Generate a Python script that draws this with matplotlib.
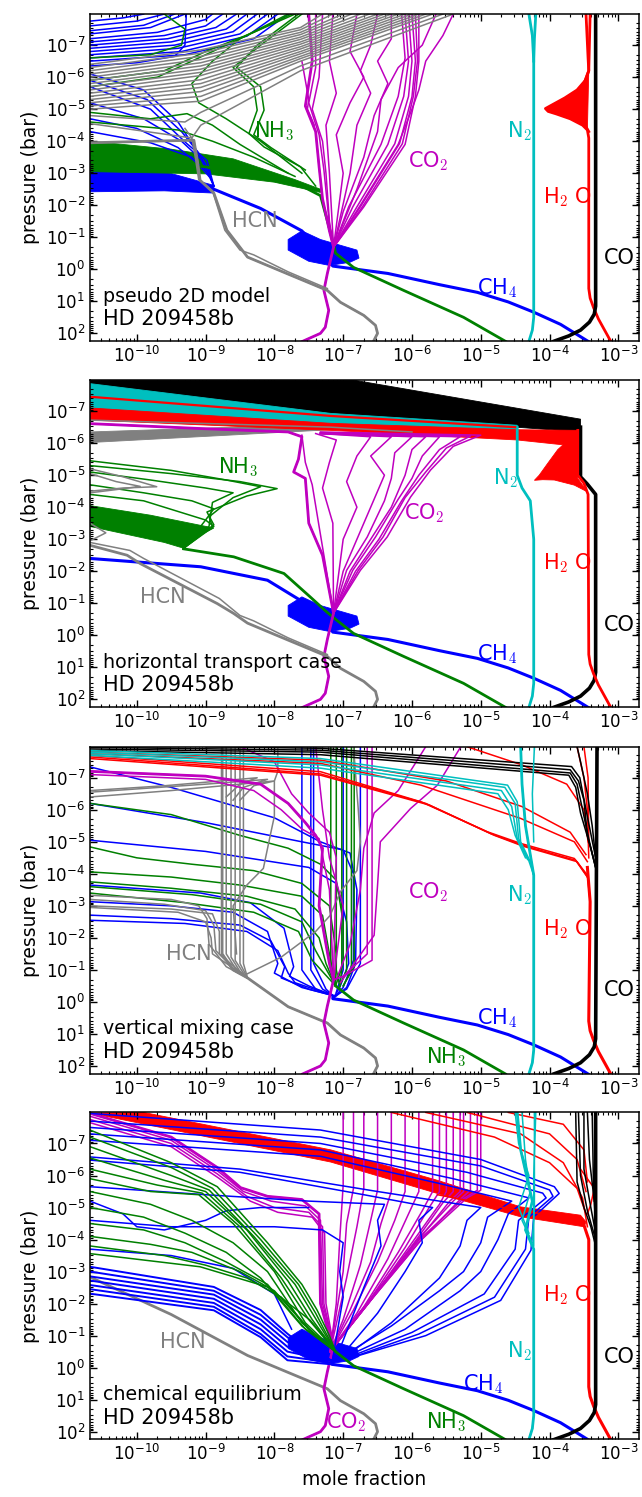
import numpy as np
import matplotlib
matplotlib.use("Agg")
import matplotlib.pyplot as plt
from matplotlib.ticker import FixedLocator, NullFormatter

plt.rcParams["font.family"] = ["DejaVu Sans"]
plt.rcParams["mathtext.fontset"] = "cm"

# every point below is (log10 mole fraction, log10 pressure [bar])

# deep atmosphere, identical in all four cases
CO_DEEP = [(-3.33, 1.15), (-3.35, 1.4), (-3.42, 1.65), (-3.55, 1.9), (-3.72, 2.08), (-3.94, 2.25)]
H2O_DEEP = [(-3.43, 0.6), (-3.41, 0.9), (-3.36, 1.2), (-3.29, 1.55), (-3.2, 1.9), (-3.11, 2.25)]
N2_DEEP = [(-4.23, 1.5), (-4.25, 1.9), (-4.30, 2.25)]
CH4_DEEP = [(-7.15, -0.1), (-6.35, 0.13), (-5.6, 0.48), (-5.05, 0.72), (-4.6, 1.02),
            (-4.23, 1.34), (-3.84, 1.72), (-3.44, 2.25)]
NH3_DEEP = [(-7.11, -0.5), (-6.85, -0.06), (-6.12, 0.66), (-5.25, 1.5), (-4.64, 2.25)]
HCN_DEEP = [(-8.39, -0.38), (-7.8, 0.15), (-7.23, 0.66), (-7.04, 1.03), (-6.70, 1.44),
            (-6.53, 1.75), (-6.50, 2.0), (-6.56, 2.25)]
CO2_DEEP = [(-7.14, -0.69), (-7.23, 0.13), (-7.28, 0.66), (-7.21, 1.28), (-7.26, 1.81),
            (-7.33, 2.0), (-7.59, 2.25)]
CH4_KNOT = [(-7.6, -1.2), (-7.8, -0.93), (-7.8, -0.6), (-7.5, -0.25), (-7.2, -0.12), (-6.9, -0.22),
            (-6.77, -0.35), (-6.8, -0.6), (-7.33, -0.93)]

# ---------------- pseudo 2D model ----------------
P1_CO = [[(-3.33, -7.97)] + CO_DEEP]
P1_H2O = [
    [(-3.47, -7.97), (-3.44, -6.6), (-3.43, -6.2), (-3.48, -5.9), (-3.6, -5.6), (-3.78, -5.35),
     (-3.95, -5.15), (-4.06, -5.02), (-4.02, -4.93), (-3.9, -4.85), (-3.7, -4.7), (-3.52, -4.5),
     (-3.45, -4.35), (-3.43, -4.1)] + H2O_DEEP,
    [(-3.41, -7.97), (-3.43, -6.2), (-3.5, -5.8), (-3.65, -5.45), (-3.8, -5.2), (-3.92, -5.0),
     (-3.82, -4.88), (-3.62, -4.68), (-3.47, -4.45), (-3.43, -4.3)],
]
P1_H2O_FILL = [(-3.43, -6.2), (-3.48, -5.9), (-3.6, -5.6), (-3.78, -5.35), (-3.95, -5.15), (-4.06, -5.02),
               (-4.02, -4.93), (-3.9, -4.85), (-3.7, -4.7), (-3.52, -4.5), (-3.45, -4.35)]
P1_N2 = [[(-4.30, -7.97), (-4.25, -7.3), (-4.23, -6.5)] + N2_DEEP,
         [(-4.20, -7.97), (-4.22, -7.2), (-4.23, -6.5)]]
P1_CH4_FILL = [(-10.68, -3.3), (-9.6, -3.05), (-8.88, -2.62), (-8.88, -2.38), (-9.6, -2.45), (-10.68, -2.42)]
P1_CH4 = [
    [(-10.68, -2.8), (-9.5, -2.62), (-8.88, -2.5), (-8.2, -1.9), (-7.6, -1.2), (-7.35, -0.6)] + CH4_DEEP,
    [(-10.68, -7.75), (-10.2, -7.85), (-9.9, -7.97)],
    [(-10.68, -7.6), (-10.0, -7.75), (-9.6, -7.97)],
    [(-10.68, -7.45), (-9.9, -7.62), (-9.45, -7.97)],
    [(-10.68, -7.35), (-9.8, -7.55), (-9.3, -7.97)],
    [(-10.68, -7.2), (-9.7, -7.4), (-9.0, -7.8), (-8.9, -7.97)],
    [(-10.68, -7.1), (-9.6, -7.3), (-9.0, -7.6), (-8.75, -7.97)],
    [(-10.68, -7.0), (-9.55, -7.2), (-8.85, -7.55), (-8.55, -7.97)],
    [(-10.68, -6.9), (-9.5, -7.1), (-8.7, -7.5), (-8.4, -7.97)],
    [(-10.68, -6.8), (-9.45, -7.0), (-8.6, -7.42), (-8.25, -7.97)],
    [(-10.68, -6.7), (-9.4, -6.9), (-8.5, -7.35), (-8.1, -7.97)],
    [(-10.68, -6.6), (-9.35, -6.8), (-8.4, -7.28), (-7.95, -7.97)],
    [(-10.68, -6.5), (-9.3, -6.7), (-8.3, -7.2), (-7.8, -7.97)],
    [(-9.28, -7.97), (-9.3, -7.0), (-9.45, -6.65), (-10.0, -6.45), (-10.68, -6.35)],
    [(-10.68, -6.1), (-9.9, -5.6), (-9.4, -4.6), (-9.1, -3.6), (-8.88, -2.6)],
    [(-10.68, -5.9), (-9.85, -5.3), (-9.35, -4.3), (-9.05, -3.5), (-8.88, -2.6)],
    [(-10.68, -5.7), (-9.8, -5.0), (-9.27, -3.92), (-8.98, -3.4), (-8.88, -2.6)],
    [(-10.68, -5.2), (-9.9, -4.7), (-9.35, -4.0), (-9.0, -3.3), (-8.88, -2.6)],
    [(-10.68, -4.7), (-10.0, -4.4), (-9.4, -3.8), (-9.0, -3.1)],
    [(-10.68, -4.3), (-9.8, -3.95), (-9.2, -3.5), (-8.95, -2.9)],
]
P1_NH3_FILL = [(-10.68, -4.0), (-9.5, -3.75), (-8.6, -3.45), (-7.7, -2.8), (-7.33, -2.5), (-7.33, -2.4),
               (-8.0, -2.72), (-9.0, -2.98), (-10.68, -3.05)]
P1_NH3 = [
    [(-10.68, -3.5), (-9.0, -3.2), (-7.6, -2.6), (-7.33, -2.3), (-7.18, -1.12)] + NH3_DEEP,
    [(-9.6, -7.97), (-9.3, -7.5), (-9.35, -7.0), (-9.8, -6.7), (-10.68, -6.6)],
    [(-7.7, -7.97), (-8.3, -7.4), (-9.0, -6.8), (-9.6, -6.2), (-10.68, -5.9)],
    [(-7.75, -7.97), (-8.4, -7.3), (-9.1, -6.6), (-9.7, -6.0), (-10.68, -5.7)],
    [(-7.8, -7.97), (-8.5, -7.2), (-8.9, -6.5), (-9.2, -5.8), (-9.1, -5.2), (-8.7, -4.7), (-8.2, -4.0),
     (-7.6, -3.0)],
    [(-7.6, -7.97), (-8.2, -7.0), (-8.6, -6.3), (-8.3, -5.7), (-8.25, -4.97), (-8.37, -4.24), (-8.15, -3.82),
     (-7.62, -3.2), (-7.4, -2.6)],
    [(-7.65, -7.97), (-8.25, -7.0), (-8.55, -6.3), (-8.2, -5.7), (-8.15, -4.97), (-8.3, -4.2), (-8.05, -3.8),
     (-7.55, -3.1)],
    [(-10.68, -4.9), (-9.8, -4.7), (-9.27, -4.86), (-8.9, -4.5), (-8.5, -3.9), (-7.8, -3.0)],
    [(-10.68, -4.6), (-9.9, -4.45), (-9.4, -4.35), (-8.9, -4.0), (-8.3, -3.5), (-7.7, -2.9)],
]
P1_HCN = [
    [(-10.68, -3.95), (-9.8, -4.0), (-9.17, -4.03), (-9.12, -3.4), (-9.08, -2.78), (-8.88, -2.38),
     (-8.69, -1.22)] + HCN_DEEP,
    [(-9.3, -4.4), (-9.2, -4.1), (-9.15, -3.5), (-9.1, -2.8), (-8.9, -2.45), (-8.72, -1.22), (-8.5, -0.6),
     (-8.3, -0.45), (-7.8, 0.08), (-7.23, 0.6)],
    [(-10.68, -6.40), (-9.07, -6.85), (-7.62, -7.55), (-7.30, -7.97)],
    [(-10.68, -6.30), (-9.07, -6.75), (-7.62, -7.48), (-7.15, -7.97)],
    [(-10.68, -6.20), (-9.07, -6.65), (-7.62, -7.40), (-7.00, -7.97)],
    [(-10.68, -6.10), (-9.07, -6.55), (-7.62, -7.33), (-6.88, -7.97)],
    [(-10.68, -6.00), (-9.07, -6.45), (-7.62, -7.25), (-6.75, -7.97)],
    [(-10.68, -5.90), (-9.07, -6.35), (-7.62, -7.18), (-6.62, -7.97)],
    [(-10.68, -5.80), (-9.07, -6.25), (-7.62, -7.10), (-6.50, -7.97)],
    [(-10.68, -5.70), (-9.07, -6.15), (-7.62, -7.03), (-6.40, -7.97)],
    [(-10.68, -5.60), (-9.07, -6.05), (-7.62, -6.95), (-6.30, -7.97)],
    [(-10.68, -5.50), (-9.07, -5.92), (-7.62, -6.88), (-6.20, -7.97)],
    [(-10.68, -5.40), (-9.07, -5.80), (-7.62, -6.80), (-6.10, -7.97)],
    [(-10.68, -5.30), (-9.07, -5.68), (-7.62, -6.73), (-6.00, -7.97)],
    [(-10.68, -5.20), (-9.07, -5.55), (-7.62, -6.65), (-5.90, -7.97)],
    [(-10.68, -5.10), (-9.07, -5.40), (-7.62, -6.58), (-5.80, -7.97)],
    [(-10.68, -5.00), (-9.07, -5.25), (-7.62, -6.50), (-5.70, -7.97)],
    [(-10.68, -4.80), (-9.3, -4.6), (-9.07, -4.9), (-7.62, -6.35), (-5.55, -7.97)],
    [(-10.68, -4.55), (-9.2, -4.1), (-9.07, -4.5), (-7.62, -6.2), (-5.4, -7.97)],
]
P1_CO2 = [
    [(-7.5, -7.97), (-7.45, -6.5), (-7.55, -5.1), (-7.4, -4.3), (-7.35, -3.2), (-7.3, -2.2), (-7.2, -1.2)]
    + CO2_DEEP,
    [(-7.3, -7.97), (-7.35, -6.0), (-7.45, -5.0), (-7.3, -4.0), (-7.25, -3.0), (-7.2, -1.5), (-7.14, -0.69)],
    [(-7.4, -7.97), (-7.4, -6.3), (-7.5, -5.2), (-7.35, -4.2), (-7.28, -3.1), (-7.2, -1.4), (-7.14, -0.69)],
    [(-7.15, -7.97), (-7.2, -6.5), (-7.1, -5.5), (-7.25, -4.5), (-7.2, -3.0), (-7.14, -0.69)],
    [(-6.8, -7.97), (-6.9, -6.8), (-6.7, -6.0), (-6.9, -5.2), (-7.1, -4.2), (-7.0, -3.0), (-7.14, -0.69)],
    [(-6.5, -7.97), (-6.6, -7.0), (-6.75, -6.2), (-6.6, -5.5), (-6.8, -4.5), (-6.9, -3.0), (-7.14, -0.69)],
    [(-6.3, -7.97), (-6.3, -7.2), (-6.5, -6.5), (-6.35, -5.8), (-6.55, -4.8), (-6.7, -3.5), (-7.0, -1.8),
     (-7.14, -0.69)],
    [(-5.9, -7.97), (-5.9, -6.5), (-5.95, -5.4), (-6.1, -3.9), (-6.7, -1.95), (-7.14, -0.69)],
    [(-5.95, -7.97), (-5.92, -6.5), (-5.98, -5.4), (-6.14, -3.92), (-6.72, -1.95), (-7.14, -0.69)],
    [(-6.0, -7.97), (-5.95, -6.5), (-6.0, -5.39), (-6.18, -3.93), (-6.75, -1.95), (-7.14, -0.69)],
    [(-6.05, -7.97), (-6.0, -6.5), (-6.05, -5.4), (-6.25, -3.92), (-6.8, -1.95), (-7.14, -0.69)],
    [(-6.1, -7.97), (-6.05, -6.5), (-6.12, -5.4), (-6.35, -3.9), (-6.86, -1.95), (-7.14, -0.69)],
    [(-6.15, -7.97), (-6.1, -6.6), (-6.2, -5.4), (-6.45, -3.9), (-6.92, -1.95), (-7.14, -0.69)],
    [(-5.4, -7.97), (-5.55, -7.3), (-5.8, -6.5), (-5.9, -5.6), (-6.0, -5.0), (-6.2, -3.9), (-6.75, -2.0),
     (-7.14, -0.69)],
    [(-5.65, -7.97), (-5.85, -7.0), (-6.2, -6.3), (-6.45, -5.3), (-6.5, -4.3), (-6.8, -2.5), (-7.14, -0.69)],
    [(-7.6, -6.5), (-7.5, -5.3), (-7.52, -5.0), (-7.42, -4.5)],
]

# ---------------- horizontal transport case ----------------
P2_CO_FILL = [(-10.68, -7.97), (-6.85, -7.97), (-3.55, -6.75), (-3.55, -6.35), (-7.18, -6.93), (-10.68, -7.8)]
P2_CO = [[(-3.55, -6.5), (-3.55, -4.95), (-3.45, -4.72), (-3.33, -4.4)] + CO_DEEP]
P2_N2_FILL = [(-10.68, -7.86), (-7.18, -6.93), (-4.47, -6.56), (-4.47, -6.3), (-7.18, -6.6), (-10.68, -6.98)]
P2_N2 = [[(-4.47, -6.5), (-4.47, -5.0), (-4.40, -4.6), (-4.28, -4.2), (-4.23, -3.0)] + N2_DEEP]
P2_H2O_FILL = [(-10.68, -7.1), (-7.18, -6.62), (-4.47, -6.42), (-3.59, -6.4), (-3.59, -5.9), (-4.47, -6.1),
               (-7.18, -6.4), (-10.68, -6.72)]
P2_H2O_BUMP = [(-3.59, -6.3), (-3.75, -6.05), (-3.88, -5.8), (-4.03, -5.36), (-4.15, -5.0), (-4.22, -4.84),
               (-4.1, -4.86), (-3.93, -4.85), (-3.64, -4.69), (-3.45, -4.48), (-3.59, -4.9)]
P2_H2O = [
    [(-3.59, -6.4), (-3.59, -5.0), (-3.5, -4.75), (-3.44, -4.4)] + H2O_DEEP,
    [(-10.68, -7.45), (-7.18, -6.85), (-4.5, -6.5)],
]
P2_HCN_FILL = [(-10.68, -6.35), (-7.18, -6.6), (-6.85, -6.52), (-7.18, -6.42), (-10.68, -6.02)]
P2_HCN = [
    [(-10.68, -2.81), (-10.14, -2.5), (-9.95, -2.24), (-8.83, -0.99), (-8.59, -0.68)] + HCN_DEEP,
    [(-10.68, -6.72), (-7.18, -6.5), (-6.0, -6.35)],
    [(-10.68, -5.2), (-10.2, -4.95), (-9.71, -4.64), (-10.2, -4.6), (-10.68, -4.5)],
    [(-10.68, -5.05), (-10.3, -4.8), (-9.95, -4.65), (-10.3, -4.55), (-10.68, -4.45)],
    [(-10.68, -3.5), (-10.45, -3.2), (-10.68, -2.95)],
    [(-10.68, -2.9), (-10.1, -2.65), (-9.9, -2.4), (-8.8, -1.15), (-8.5, -0.62), (-8.3, -0.45), (-7.8, 0.08),
     (-7.23, 0.6)],
]
P2_NH3_FILL = [(-10.68, -4.05), (-9.8, -3.75), (-8.88, -3.35), (-9.1, -3.1), (-9.32, -2.72), (-9.6, -2.9),
               (-10.68, -3.4)]
P2_NH3 = [
    [(-9.32, -2.7), (-8.59, -2.45), (-7.86, -1.93), (-7.48, -1.2), (-7.25, -0.75)] + NH3_DEEP,
    [(-10.68, -5.3), (-9.5, -5.05), (-8.5, -4.8), (-7.96, -4.58), (-8.4, -4.35), (-8.98, -3.85),
     (-8.88, -3.45), (-9.32, -2.72)],
    [(-10.68, -5.45), (-9.5, -5.15), (-8.7, -4.85), (-8.2, -4.64), (-8.6, -4.3), (-8.95, -3.7),
     (-8.9, -3.4), (-9.32, -2.72)],
    [(-10.68, -5.1), (-9.8, -4.85), (-9.0, -4.6), (-8.6, -4.45), (-8.9, -4.15), (-8.95, -3.4), (-9.32, -2.72)],
    [(-10.68, -4.7), (-9.9, -4.45), (-9.2, -4.2), (-8.88, -3.95), (-9.0, -3.6), (-9.32, -2.72)],
    [(-10.68, -4.4), (-9.9, -4.2), (-9.0, -3.6), (-8.88, -3.4), (-9.32, -2.72)],
]
P2_CH4 = [[(-10.68, -2.4), (-9.07, -2.14), (-8.1, -1.72), (-7.62, -1.09), (-7.35, -0.7)] + CH4_DEEP]
P2_CO2 = [
    [(-10.68, -6.61), (-9.0, -6.45), (-7.8, -6.35), (-7.6, -6.2), (-7.65, -5.5), (-7.72, -5.1),
     (-7.55, -4.9), (-7.5, -3.5), (-7.3, -2.5)] + CO2_DEEP,
    [(-7.33, -6.35), (-5.0, -6.25), (-5.4, -5.9), (-5.73, -5.16), (-6.02, -4.32), (-6.36, -3.07),
     (-6.75, -2.03), (-7.14, -0.69)],
    [(-7.33, -6.33), (-5.15, -6.22), (-5.5, -5.85), (-5.8, -5.1), (-6.1, -4.3), (-6.42, -3.07),
     (-6.78, -2.03), (-7.14, -0.69)],
    [(-7.33, -6.3), (-5.3, -6.2), (-5.6, -5.8), (-5.9, -5.0), (-6.15, -4.2), (-6.48, -3.0), (-6.82, -2.0),
     (-7.14, -0.69)],
    [(-7.33, -6.32), (-5.6, -6.2), (-5.85, -5.6), (-6.0, -4.9), (-6.2, -4.25), (-6.53, -3.07),
     (-6.86, -2.03), (-7.14, -0.69)],
    [(-7.33, -6.3), (-5.8, -6.2), (-6.0, -5.8), (-6.1, -5.0), (-6.3, -4.0), (-6.6, -3.0), (-6.9, -2.0),
     (-7.14, -0.69)],
    [(-7.33, -6.31), (-6.0, -6.2), (-6.25, -5.7), (-6.3, -4.9), (-6.4, -4.2), (-6.65, -3.07), (-6.95, -2.03),
     (-7.14, -0.69)],
    [(-7.33, -6.3), (-6.3, -6.2), (-6.6, -5.6), (-6.4, -5.0), (-6.6, -4.0), (-6.8, -3.0), (-7.0, -2.0),
     (-7.14, -0.69)],
    [(-7.33, -6.3), (-6.6, -6.2), (-6.8, -5.6), (-6.95, -4.8), (-6.8, -4.0), (-7.0, -3.0), (-7.14, -0.69)],
    [(-7.4, -6.3), (-7.1, -6.1), (-7.2, -5.4), (-7.3, -4.6), (-7.15, -3.5), (-7.14, -0.69)],
    [(-7.6, -6.25), (-7.55, -5.4), (-7.45, -4.7), (-7.35, -3.4), (-7.14, -0.69)],
]

# ---------------- vertical mixing case ----------------
P3_CO = [
    [(-3.31, -7.97), (-3.33, 1.15)] + CO_DEEP,
    [(-10.68, -7.95), (-7.33, -7.86), (-3.7, -7.25), (-3.58, -6.9), (-3.5, -6.3), (-3.45, -5.2), (-3.33, -4.2)],
    [(-10.68, -7.9), (-7.33, -7.8), (-3.7, -7.15), (-3.6, -6.8), (-3.52, -6.0), (-3.42, -5.0), (-3.33, -4.2)],
    [(-10.68, -7.85), (-7.33, -7.72), (-3.72, -7.08), (-3.62, -6.7), (-3.55, -5.9), (-3.4, -4.8), (-3.33, -4.2)],
    [(-9.0, -7.97), (-7.33, -7.92), (-3.68, -7.35), (-3.56, -7.0), (-3.47, -6.0), (-3.33, -4.5)],
    [(-3.6, -7.97), (-3.55, -7.5), (-3.45, -6.5), (-3.38, -5.5), (-3.33, -4.5)],
]
P3_N2 = [
    [(-4.42, -7.97), (-4.4, -6.8), (-4.35, -5.5), (-4.28, -4.6), (-4.23, -3.96)] + N2_DEEP,
    [(-4.22, -7.97), (-4.25, -6.5), (-4.23, -5.0)],
    [(-10.68, -7.85), (-7.33, -7.6), (-4.61, -6.77), (-4.47, -6.25), (-4.42, -5.0), (-4.28, -4.38), (-4.23, -3.96)],
    [(-10.68, -7.8), (-7.33, -7.5), (-4.65, -6.7), (-4.5, -6.2), (-4.45, -5.1), (-4.3, -4.4), (-4.23, -3.96)],
    [(-10.68, -7.75), (-7.33, -7.4), (-4.7, -6.6), (-4.55, -6.1), (-4.47, -5.1), (-4.32, -4.45)],
    [(-10.68, -7.7), (-7.33, -7.3), (-4.75, -6.5), (-4.6, -6.0), (-4.5, -5.2), (-4.35, -4.5)],
]
P3_H2O = [
    [(-3.45, -4.2), (-3.41, -3.13)] + H2O_DEEP,
    [(-10.68, -7.7), (-7.33, -7.19), (-5.87, -6.25), (-4.9, -5.31), (-4.42, -4.95), (-3.64, -4.48),
     (-3.45, -3.96), (-3.41, -3.13)],
    [(-10.68, -7.65), (-7.33, -7.12), (-5.8, -6.2), (-4.85, -5.25), (-4.4, -4.9), (-3.62, -4.42), (-3.45, -3.9)],
    [(-10.68, -7.6), (-7.33, -7.08), (-5.75, -6.15), (-4.8, -5.2), (-4.38, -4.86), (-3.6, -4.38), (-3.45, -3.9)],
    [(-10.68, -7.75), (-7.33, -7.45), (-5.87, -6.77), (-4.42, -5.73), (-3.64, -5.0), (-3.45, -4.38)],
    [(-10.68, -7.8), (-7.33, -7.55), (-5.5, -6.9), (-4.4, -6.1), (-3.7, -5.3), (-3.47, -4.6)],
    [(-5.2, -7.97), (-4.4, -7.4), (-3.75, -6.8), (-3.5, -6.0), (-3.44, -5.0)],
    [(-3.6, -7.97), (-3.5, -7.0), (-3.45, -6.0), (-3.43, -4.5)],
    [(-3.5, -7.97), (-3.44, -7.0), (-3.43, -5.0)],
]
P3_HCN = [
    [(-8.76, -7.97), (-8.76, -1.5), (-8.6, -1.0), (-8.39, -0.75)] + HCN_DEEP[1:],
    [(-8.7, -7.97), (-8.7, -1.5), (-8.55, -1.0), (-8.39, -0.75)],
    [(-8.63, -7.97), (-8.63, -1.4), (-8.5, -0.95), (-8.39, -0.75)],
    [(-8.57, -7.97), (-8.57, -1.3), (-8.45, -0.9), (-8.39, -0.75)],
    [(-8.5, -7.97), (-8.5, -1.2), (-8.39, -0.75)],
    [(-8.45, -7.97), (-8.45, -1.2), (-8.39, -0.75)],
    [(-10.68, -3.33), (-9.5, -3.2), (-9.1, -3.0), (-8.98, -2.6), (-8.95, -1.8), (-8.7, -1.1), (-8.39, -0.75)],
    [(-10.68, -3.2), (-9.6, -3.05), (-9.0, -2.85), (-8.88, -2.4), (-8.85, -1.6), (-8.6, -1.05), (-8.39, -0.75)],
    [(-10.68, -3.0), (-9.5, -2.9), (-8.9, -2.75), (-8.8, -2.2), (-8.8, -1.5), (-8.39, -0.75)],
    [(-10.68, -2.95), (-9.4, -2.8), (-9.0, -2.5), (-8.92, -2.0), (-8.9, -1.5), (-8.39, -0.75)],
    [(-8.6, -6.3), (-8.45, -6.7), (-8.1, -6.95), (-9.0, -6.8), (-10.68, -6.55)],
    [(-8.5, -6.3), (-8.3, -6.75), (-8.0, -6.9), (-9.5, -6.6), (-10.68, -6.4)],
    [(-8.7, -6.4), (-8.5, -6.8), (-8.25, -7.0), (-9.6, -6.75), (-10.68, -6.6)],
    [(-7.95, -7.97), (-7.95, -7.2), (-8.0, -6.9), (-8.0, -5.8), (-8.06, -5.2), (-8.16, -4.17), (-8.4, -3.65),
     (-8.6, -3.0), (-8.55, -1.5)],
    [(-8.42, -0.85), (-7.9, -1.4), (-7.4, -2.2), (-7.19, -2.7), (-7.04, -3.44), (-6.8, -4.1), (-6.75, -5.0),
     (-6.78, -6.0), (-6.85, -7.97)],
]
P3_CH4 = [
    [(-7.15, -0.15)] + CH4_DEEP,
    [(-10.68, -7.34), (-9.5, -6.7), (-8.0, -5.75), (-7.33, -5.0), (-6.9, -4.65), (-6.8, -3.5), (-6.82, -1.2),
     (-6.95, -0.45), (-7.15, -0.1)],
    [(-10.68, -6.2), (-9.0, -5.6), (-7.6, -5.0), (-7.0, -4.75), (-6.85, -4.0), (-6.85, -1.3), (-7.0, -0.45),
     (-7.15, -0.1)],
    [(-10.68, -5.05), (-9.0, -4.7), (-7.5, -4.2), (-7.1, -3.7), (-6.95, -2.5), (-6.92, -1.2), (-7.05, -0.45),
     (-7.15, -0.1)],
    [(-10.68, -3.65), (-9.07, -3.4), (-8.35, -3.1), (-7.86, -2.3), (-7.72, -1.1), (-7.78, -0.8), (-7.5, -0.5),
     (-7.15, -0.2)],
    [(-10.68, -3.13), (-9.5, -3.0), (-8.6, -2.8), (-8.1, -2.2), (-7.95, -1.2), (-8.0, -0.9), (-7.6, -0.45),
     (-7.15, -0.2)],
    [(-10.68, -2.71), (-9.5, -2.6), (-8.5, -2.4), (-8.05, -1.9), (-7.85, -1.1), (-7.9, -0.75), (-7.5, -0.4),
     (-7.15, -0.2)],
    [(-10.68, -2.55), (-9.3, -2.45), (-8.4, -2.2), (-7.95, -1.6), (-7.8, -0.9), (-7.7, -0.6), (-7.15, -0.2)],
    [(-7.6, -7.97), (-7.6, -1.0), (-7.4, -0.4), (-7.15, -0.2)],
    [(-7.47, -7.97), (-7.47, -1.0), (-7.3, -0.4), (-7.15, -0.2)],
    [(-7.43, -7.97), (-7.43, -1.2), (-7.25, -0.4), (-7.15, -0.2)],
    [(-7.0, -7.97), (-7.0, -1.0), (-7.1, -0.3)],
    [(-6.75, -7.97), (-6.75, -1.2), (-6.95, -0.4), (-7.15, -0.15)],
]
P3_NH3 = [
    [(-7.11, -0.5)] + NH3_DEEP,
    [(-10.68, -6.2), (-9.5, -5.85), (-8.5, -5.2), (-7.8, -4.8), (-7.33, -4.3), (-7.1, -3.8), (-7.0, -2.5),
     (-7.0, -1.2), (-7.11, -0.5)],
    [(-10.68, -4.84), (-10.0, -4.5), (-9.2, -4.3), (-8.3, -4.1), (-7.6, -3.7), (-7.2, -3.0), (-7.1, -1.5),
     (-7.11, -0.5)],
    [(-10.68, -4.06), (-9.5, -3.9), (-8.5, -3.65), (-7.6, -3.3), (-7.3, -2.7), (-7.2, -1.5), (-7.11, -0.5)],
    [(-10.68, -3.75), (-9.5, -3.55), (-8.4, -3.3), (-7.7, -2.9), (-7.35, -2.0), (-7.25, -1.2), (-7.11, -0.5)],
    [(-10.68, -3.6), (-9.2, -3.35), (-8.2, -3.05), (-7.6, -2.5), (-7.4, -1.6), (-7.11, -0.5)],
    [(-10.68, -3.4), (-9.3, -3.1), (-8.3, -2.8), (-7.65, -2.2), (-7.45, -1.3), (-7.11, -0.5)],
    [(-7.18, -7.97), (-7.18, -1.0), (-7.11, -0.5)],
    [(-7.1, -7.97), (-7.1, -1.0), (-7.05, -0.5)],
    [(-7.02, -7.97), (-7.02, -1.0), (-7.05, -0.5)],
    [(-6.95, -7.97), (-6.95, -1.0), (-7.05, -0.5)],
    [(-6.88, -7.97), (-6.88, -1.0), (-7.0, -0.5)],
    [(-6.84, -7.97), (-6.84, -1.1), (-7.0, -0.5)],
]
P3_CO2 = [
    [(-10.68, -7.2), (-9.0, -7.05), (-8.2, -6.8), (-7.8, -6.2), (-7.55, -5.6), (-7.4, -5.2), (-7.3, -4.8),
     (-7.35, -3.0), (-7.2, -1.2)] + CO2_DEEP,
    [(-10.68, -7.1), (-9.0, -6.95), (-8.3, -6.6), (-7.9, -6.0), (-7.6, -5.4), (-7.35, -5.1), (-7.2, -3.5),
     (-7.14, -0.69)],
    [(-8.5, -7.97), (-8.0, -7.5), (-7.75, -6.5), (-7.5, -5.9), (-7.2, -5.3), (-7.1, -4.5), (-7.14, -0.69)],
    [(-7.4, -7.97), (-7.3, -6.0), (-7.2, -4.5), (-7.0, -3.0), (-7.14, -0.69)],
    [(-6.65, -7.97), (-6.65, -1.5), (-7.0, -0.8), (-7.14, -0.69)],
    [(-6.58, -7.97), (-6.58, -1.3), (-7.0, -0.8), (-7.14, -0.69)],
    [(-5.29, -7.97), (-5.63, -6.77), (-6.02, -6.04), (-6.46, -5.0), (-6.5, -3.65), (-6.55, -2.08),
     (-7.04, -0.6)],
    [(-5.8, -7.97), (-6.2, -6.6), (-6.55, -5.9), (-6.7, -4.8), (-6.75, -3.5), (-6.9, -1.8), (-7.1, -0.7)],
]

# ---------------- chemical equilibrium ----------------
P4_CO = [
    [(-3.33, -7.97), (-3.33, 1.15)] + CO_DEEP,
    [(-3.62, -7.97), (-3.6, -5.8), (-3.5, -5.0), (-3.4, -4.4), (-3.33, -3.8)],
    [(-3.58, -7.97), (-3.55, -6.0), (-3.45, -4.9), (-3.33, -4.0)],
    [(-3.5, -7.97), (-3.5, -6.2), (-3.4, -5.0), (-3.33, -4.2)],
    [(-3.45, -7.97), (-3.42, -6.5), (-3.35, -5.2)],
    [(-3.38, -7.97), (-3.36, -5.5), (-3.33, -4.5)],
]
P4_N2 = [
    [(-4.47, -7.97), (-4.42, -6.8), (-4.25, -5.2), (-4.35, -4.3), (-4.23, -3.7)] + N2_DEEP,
    [(-4.4, -7.97), (-4.35, -6.5), (-4.28, -5.5), (-4.4, -4.6), (-4.25, -3.9)],
    [(-4.22, -7.97), (-4.22, -5.0), (-4.25, -4.0)],
    [(-4.5, -7.97), (-4.45, -7.0), (-4.3, -6.0), (-4.45, -5.0), (-4.3, -4.2)],
    [(-4.2, -7.97), (-4.23, -6.0), (-4.23, -3.8)],
]
P4_H2O_FILL = [(-9.9, -7.97), (-7.18, -6.8), (-5.63, -5.85), (-4.42, -5.02), (-3.55, -4.76), (-3.47, -4.55),
               (-3.5, -4.4), (-4.42, -4.71), (-5.63, -5.44), (-7.18, -6.42), (-10.68, -7.95)]
P4_H2O = [
    [(-3.5, -4.45), (-3.43, -4.0)] + H2O_DEEP,
    [(-5.8, -7.97), (-4.42, -7.3), (-3.8, -6.4), (-3.52, -5.3), (-3.45, -4.4)],
    [(-5.2, -7.97), (-4.0, -7.3), (-3.6, -6.5), (-3.47, -5.5)],
    [(-4.6, -7.97), (-3.8, -7.6), (-3.5, -6.8), (-3.45, -5.8)],
    [(-6.3, -7.97), (-4.8, -7.2), (-4.0, -6.4), (-3.6, -5.6), (-3.47, -4.8)],
    [(-3.55, -6.2), (-3.35, -5.6), (-3.4, -5.1), (-3.45, -4.8)],
    [(-5.63, -5.4), (-4.42, -4.9), (-3.6, -4.65)],
]
P4_CH4 = [
    [(-7.15, -0.1)] + CH4_DEEP,
    [(-10.68, -7.94), (-7.33, -7.42), (-5.0, -6.5), (-3.93, -5.65), (-3.86, -5.44), (-4.23, -4.71),
     (-4.27, -3.67), (-4.71, -2.1), (-5.8, -1.0), (-6.85, -0.33), (-7.1, -0.2)],
    [(-10.68, -7.7), (-7.33, -7.2), (-5.0, -6.3), (-4.0, -5.55), (-3.95, -5.35), (-4.3, -4.7), (-4.35, -3.7),
     (-4.8, -2.2), (-5.9, -1.05), (-6.9, -0.3), (-7.1, -0.2)],
    [(-10.68, -7.5), (-7.33, -7.0), (-5.2, -6.1), (-4.1, -5.45), (-4.05, -5.3), (-4.45, -4.6), (-4.5, -3.7),
     (-4.95, -2.3), (-6.0, -1.1), (-6.95, -0.3), (-7.1, -0.2)],
    [(-10.68, -7.3), (-7.33, -6.8), (-5.4, -5.9), (-4.3, -5.3), (-4.6, -4.8), (-4.75, -4.0), (-5.0, -3.0),
     (-5.3, -2.4), (-6.1, -1.2), (-7.0, -0.3), (-7.1, -0.2)],
    [(-10.68, -7.1), (-7.33, -6.6), (-5.6, -5.75), (-4.55, -5.2), (-4.9, -4.7), (-5.0, -3.9), (-5.25, -3.0),
     (-5.6, -2.4), (-6.3, -1.3), (-7.05, -0.3)],
    [(-10.68, -6.58), (-8.5, -6.2), (-6.5, -5.5), (-5.0, -5.0), (-5.2, -4.6), (-5.3, -3.8), (-5.6, -2.8),
     (-6.3, -1.4), (-7.0, -0.3)],
    [(-10.68, -6.48), (-8.5, -6.1), (-6.7, -5.4), (-5.7, -5.0), (-5.9, -4.6), (-5.85, -3.9), (-6.1, -3.0),
     (-6.5, -1.7), (-7.05, -0.3)],
    [(-10.68, -5.65), (-9.0, -5.4), (-7.5, -5.2), (-6.4, -5.1), (-6.5, -4.6), (-6.45, -3.8), (-6.7, -2.5),
     (-7.1, -0.3)],
    [(-10.68, -4.6), (-9.5, -4.4), (-8.0, -4.4), (-7.3, -4.3), (-7.0, -3.9), (-7.05, -3.0), (-7.0, -2.2),
     (-7.15, -0.3)],
    [(-10.68, -5.2), (-10.2, -4.8), (-10.0, -4.4), (-9.6, -4.3), (-9.0, -4.6), (-8.7, -4.9), (-8.2, -5.0),
     (-7.5, -5.0)],
    [(-10.68, -3.7), (-9.5, -3.5), (-8.6, -3.1), (-8.0, -2.3), (-7.75, -1.2)],
]
P4_CH4_BAND = [
    [(-10.68, -3.15), (-8.88, -2.52), (-8.2, -1.8), (-7.81, -1.06), (-7.6, -0.7), (-7.15, -0.2)],
    [(-10.68, -3.0), (-8.88, -2.4), (-8.2, -1.65), (-7.81, -0.95), (-7.15, -0.2)],
    [(-10.68, -2.85), (-8.88, -2.28), (-8.2, -1.5), (-7.81, -0.8), (-7.15, -0.2)],
    [(-10.68, -2.72), (-8.88, -2.15), (-8.2, -1.35), (-7.81, -0.65), (-7.15, -0.2)],
    [(-10.68, -2.58), (-8.88, -2.02), (-8.2, -1.2), (-7.81, -0.5), (-7.15, -0.2)],
    [(-10.68, -2.45), (-8.88, -1.9), (-8.2, -1.05), (-7.81, -0.35), (-7.15, -0.15)],
    [(-10.68, -2.31), (-8.88, -1.79), (-8.2, -0.95), (-7.81, -0.23), (-7.15, -0.1)],
]
P4_NH3 = [
    [(-7.11, -0.5)] + NH3_DEEP,
    [(-10.68, -7.42), (-9.5, -6.4), (-8.83, -5.65), (-8.1, -3.9), (-7.6, -2.6), (-7.38, -1.8), (-7.2, -1.0),
     (-7.11, -0.5)],
    [(-10.68, -7.2), (-9.5, -6.25), (-8.9, -5.6), (-8.2, -4.0), (-7.65, -2.6), (-7.4, -1.7), (-7.11, -0.5)],
    [(-10.68, -6.9), (-9.5, -6.0), (-8.95, -5.55), (-8.3, -4.1), (-7.7, -2.6), (-7.42, -1.6), (-7.11, -0.5)],
    [(-10.68, -6.55), (-9.6, -5.85), (-9.0, -5.5), (-8.4, -4.3), (-7.8, -2.7), (-7.45, -1.5), (-7.11, -0.5)],
    [(-10.68, -6.2), (-9.7, -5.7), (-9.05, -5.45), (-8.5, -4.4), (-7.9, -2.8), (-7.5, -1.5), (-7.11, -0.5)],
    [(-10.68, -5.9), (-9.8, -5.5), (-9.1, -5.4), (-8.6, -4.5), (-8.0, -3.0), (-7.55, -1.4), (-7.11, -0.5)],
    [(-10.68, -5.5), (-9.8, -5.1), (-9.2, -4.6), (-8.6, -3.9), (-8.1, -3.0), (-7.6, -1.4), (-7.11, -0.5)],
    [(-10.68, -5.0), (-9.9, -4.7), (-9.3, -4.2), (-8.7, -3.6), (-8.2, -2.8), (-7.6, -1.3), (-7.11, -0.5)],
    [(-10.68, -4.5), (-9.9, -4.3), (-9.3, -3.9), (-8.7, -3.3), (-8.1, -2.6), (-7.55, -1.2), (-7.11, -0.5)],
    [(-10.68, -4.1), (-9.8, -3.85), (-9.2, -3.6), (-8.5, -3.0), (-8.0, -2.4), (-7.5, -1.2), (-7.11, -0.5)],
    [(-10.68, -3.8), (-9.6, -3.5), (-9.0, -3.2), (-8.4, -2.8), (-7.9, -2.2), (-7.45, -1.1), (-7.11, -0.5)],
    [(-10.68, -3.56), (-9.08, -3.15), (-8.1, -2.52), (-7.48, -1.48), (-7.23, -0.85), (-7.11, -0.5)],
]
P4_HCN = [[(-10.68, -2.83), (-9.5, -1.66)] + HCN_DEEP]
P4_CO2 = [
    [(-10.68, -7.94), (-9.5, -7.2), (-8.83, -6.25), (-8.49, -5.62), (-8.1, -5.35), (-7.6, -5.25),
     (-7.35, -4.8), (-7.33, -2.0), (-7.2, -1.0)] + CO2_DEEP,
    [(-10.68, -7.85), (-9.5, -7.1), (-8.83, -6.15), (-8.45, -5.5), (-8.05, -5.2), (-7.55, -5.05),
     (-7.33, -4.6), (-7.3, -2.0), (-7.14, -0.69)],
    [(-10.68, -7.75), (-9.5, -7.0), (-8.83, -6.05), (-8.4, -5.35), (-8.0, -5.0), (-7.5, -4.85),
     (-7.3, -4.4), (-7.28, -2.0), (-7.14, -0.69)],
    [(-10.68, -7.65), (-9.5, -6.9), (-8.83, -5.95), (-8.35, -5.2), (-7.95, -4.85), (-7.45, -4.7),
     (-7.27, -4.2), (-7.25, -2.0), (-7.14, -0.69)],
    [(-7.0, -7.97), (-7.0, -5.7), (-7.05, -4.0), (-7.1, -2.0), (-7.19, -0.5)],
    [(-6.85, -7.97), (-6.85, -5.6), (-6.95, -4.5), (-7.0, -3.0), (-7.19, -0.5)],
    [(-6.7, -7.97), (-6.7, -5.6), (-6.8, -4.4), (-6.95, -2.8), (-7.19, -0.5)],
    [(-6.5, -7.97), (-6.5, -5.55), (-6.6, -4.6), (-6.75, -3.2), (-7.0, -1.5), (-7.19, -0.5)],
    [(-6.3, -7.97), (-6.3, -5.5), (-6.45, -4.5), (-6.6, -3.3), (-6.9, -1.8), (-7.19, -0.5)],
    [(-6.1, -7.97), (-6.1, -5.5), (-6.25, -4.6), (-6.5, -3.3), (-6.85, -1.8), (-7.19, -0.5)],
    [(-5.9, -7.97), (-5.9, -5.5), (-6.05, -4.8), (-6.35, -3.4), (-6.8, -1.7), (-7.19, -0.5)],
    [(-5.7, -7.97), (-5.7, -5.5), (-5.85, -4.9), (-6.2, -3.6), (-6.7, -1.9), (-7.19, -0.5)],
    [(-5.6, -7.97), (-5.6, -5.5), (-5.75, -5.0), (-6.1, -3.75), (-6.65, -2.0), (-7.17, -0.55)],
    [(-5.5, -7.97), (-5.5, -5.5), (-5.6, -5.1), (-6.0, -3.9), (-6.6, -2.1), (-7.19, -0.5)],
    [(-5.4, -7.97), (-5.4, -5.5), (-5.55, -5.15), (-5.95, -3.95), (-6.6, -2.1), (-7.17, -0.55)],
    [(-5.3, -7.97), (-5.3, -5.5), (-5.45, -5.2), (-5.9, -4.0), (-6.6, -2.1), (-7.19, -0.5)],
    [(-5.25, -7.97), (-5.25, -5.5), (-5.4, -5.2), (-5.92, -4.0), (-6.62, -2.1), (-7.17, -0.6)],
    [(-5.15, -7.97), (-5.15, -5.55), (-5.3, -5.25), (-5.87, -3.98), (-6.6, -2.1), (-7.14, -0.65)],
    [(-5.05, -7.97), (-5.05, -5.54), (-5.25, -5.28), (-5.9, -3.98), (-6.62, -2.1), (-7.14, -0.65)],
    [(-5.0, -7.97), (-5.0, -5.54), (-5.2, -5.3), (-5.87, -3.98), (-6.6, -2.1), (-7.14, -0.65)],
]

CASES = ["pseudo 2D model", "horizontal transport case", "vertical mixing case", "chemical equilibrium"]
PLANET = "HD 209458b"
X_DECADES = list(range(-10, -2))
Y_DECADES = list(range(-7, 3))

GRAY = "0.5"


def lines(ax, curves, color, lw=1.1):
    for c in curves:
        a = np.asarray(c, dtype=float)
        ax.plot(10.0 ** a[:, 0], 10.0 ** a[:, 1], color=color, lw=lw, solid_joinstyle="round")


def band(ax, poly, color):
    a = np.asarray(poly, dtype=float)
    ax.fill(10.0 ** a[:, 0], 10.0 ** a[:, 1], color=color, lw=0.6)


def label(ax, text, lx, ly, color):
    ax.text(10.0 ** lx, 10.0 ** ly, text, color=color, fontsize=15, ha="center", va="center")


def minor_ticks(lo, hi):
    vals = [k * 10.0 ** d for d in range(int(np.floor(lo)) - 1, int(np.ceil(hi)) + 1) for k in range(2, 10)]
    return [v for v in vals if 10 ** lo < v < 10 ** hi]


fig = plt.figure(figsize=(6.42, 14.97), dpi=100)
bottoms = [0.7722, 0.5277, 0.2828, 0.0385]
axes = [fig.add_axes([0.1402, b, 0.8551, 0.2184]) for b in bottoms]

# panel 1
ax = axes[0]
band(ax, P1_CH4_FILL, "b")
band(ax, CH4_KNOT, "b")
lines(ax, P1_CH4[1:], "b")
lines(ax, P1_CH4[:1], "b", 2.2)
band(ax, P1_NH3_FILL, "g")
lines(ax, P1_NH3[1:], "g")
lines(ax, P1_NH3[:1], "g", 2.0)
lines(ax, P1_CO2, "m")
lines(ax, P1_CO2[:1], "m", 2.0)
lines(ax, P1_HCN, GRAY)
lines(ax, P1_HCN[:1], GRAY, 2.0)
band(ax, P1_H2O_FILL, "r")
lines(ax, P1_H2O, "r", 2.0)
lines(ax, P1_CO, "k", 2.6)
lines(ax, P1_N2, "c", 2.0)
for t, lx, ly, c in [("NH$_3$", -8.0, -4.3, "g"), ("CO$_2$", -5.76, -3.38, "m"), ("N$_2$", -4.44, -4.31, "c"),
                     ("H$_2$ O", -3.74, -2.25, "r"), ("CO", -2.99, -0.34, "k"), ("CH$_4$", -4.77, 0.58, "b"),
                     ("HCN", -8.29, -1.5, GRAY)]:
    label(ax, t, lx, ly, c)

# panel 2
ax = axes[1]
lines(ax, P2_CH4, "b", 2.2)
band(ax, CH4_KNOT, "b")
band(ax, P2_NH3_FILL, "g")
lines(ax, P2_NH3[1:], "g")
lines(ax, P2_NH3[:1], "g", 2.0)
lines(ax, P2_CO2, "m")
lines(ax, P2_CO2[:1], "m", 2.0)
band(ax, P2_HCN_FILL, GRAY)
lines(ax, P2_HCN[1:], GRAY)
lines(ax, P2_HCN[:1], GRAY, 2.0)
band(ax, P2_CO_FILL, "k")
lines(ax, P2_CO, "k", 2.6)
band(ax, P2_N2_FILL, "c")
lines(ax, P2_N2, "c", 2.0)
band(ax, P2_H2O_FILL, "r")
band(ax, P2_H2O_BUMP, "r")
lines(ax, P2_H2O[:1], "r", 2.0)
lines(ax, P2_H2O[1:], "r", 1.6)
for t, lx, ly, c in [("NH$_3$", -8.53, -5.26, "g"), ("CO$_2$", -5.82, -3.81, "m"), ("N$_2$", -4.64, -4.92, "c"),
                     ("H$_2$ O", -3.74, -2.25, "r"), ("CO", -2.99, -0.31, "k"), ("CH$_4$", -4.77, 0.59, "b"),
                     ("HCN", -9.62, -1.2, GRAY)]:
    label(ax, t, lx, ly, c)

# panel 3
ax = axes[2]
lines(ax, P3_CH4[1:], "b")
lines(ax, P3_CH4[:1], "b", 2.2)
lines(ax, P3_NH3[1:], "g")
lines(ax, P3_NH3[:1], "g", 2.0)
lines(ax, P3_HCN, GRAY)
lines(ax, P3_HCN[:1], GRAY, 2.0)
lines(ax, P3_CO2, "m")
lines(ax, P3_CO2[:1], "m", 2.0)
lines(ax, P3_H2O[1:], "r")
lines(ax, P3_H2O[:1], "r", 2.2)
lines(ax, P3_CO[1:], "k")
lines(ax, P3_CO[:1], "k", 2.6)
lines(ax, P3_N2, "c")
lines(ax, P3_N2[:1], "c", 2.0)
for t, lx, ly, c in [("NH$_3$", -5.5, 1.73, "g"), ("CO$_2$", -5.76, -3.43, "m"), ("N$_2$", -4.44, -3.33, "c"),
                     ("H$_2$ O", -3.74, -2.28, "r"), ("CO", -2.99, -0.37, "k"), ("CH$_4$", -4.77, 0.51, "b"),
                     ("HCN", -9.24, -1.51, GRAY)]:
    label(ax, t, lx, ly, c)

# panel 4
ax = axes[3]
lines(ax, P4_HCN, GRAY, 2.0)
lines(ax, P4_CO2, "m")
lines(ax, P4_CO2[:1], "m", 2.0)
band(ax, CH4_KNOT, "b")
lines(ax, P4_CH4_BAND, "b", 1.4)
lines(ax, P4_CH4[1:], "b")
lines(ax, P4_CH4[:1], "b", 2.2)
lines(ax, P4_NH3[1:], "g")
lines(ax, P4_NH3[:1], "g", 2.0)
band(ax, P4_H2O_FILL, "r")
lines(ax, P4_H2O[1:], "r")
lines(ax, P4_H2O[:1], "r", 2.2)
lines(ax, P4_CO[1:], "k")
lines(ax, P4_CO[:1], "k", 2.6)
lines(ax, P4_N2, "c")
lines(ax, P4_N2[:1], "c", 2.0)
for t, lx, ly, c in [("NH$_3$", -5.5, 1.71, "g"), ("CO$_2$", -6.95, 1.71, "m"), ("N$_2$", -4.44, -0.51, "c"),
                     ("H$_2$ O", -3.74, -2.26, "r"), ("CO", -2.99, -0.33, "k"), ("CH$_4$", -4.97, 0.52, "b"),
                     ("HCN", -9.33, -0.81, GRAY)]:
    label(ax, t, lx, ly, c)

for ax, case in zip(axes, CASES):
    ax.set_xscale("log")
    ax.set_yscale("log")
    ax.set_xlim(10 ** -10.68, 10 ** -2.70)
    ax.set_ylim(10 ** 2.24, 10 ** -7.97)
    ax.xaxis.set_major_locator(FixedLocator([10.0 ** d for d in X_DECADES]))
    ax.yaxis.set_major_locator(FixedLocator([10.0 ** d for d in Y_DECADES]))
    ax.xaxis.set_minor_locator(FixedLocator(minor_ticks(-10.68, -2.70)))
    ax.yaxis.set_minor_locator(FixedLocator(minor_ticks(-7.97, 2.24)))
    ax.xaxis.set_minor_formatter(NullFormatter())
    ax.yaxis.set_minor_formatter(NullFormatter())
    ax.tick_params(which="both", direction="in", top=True, right=True)
    ax.tick_params(which="major", length=5, width=1, labelsize=12)
    ax.tick_params(which="minor", length=2.5, width=0.8)
    for s in ax.spines.values():
        s.set_linewidth(1.1)
    ax.set_ylabel("pressure (bar)", fontsize=13.5)
    ax.text(0.024, 0.12, case, transform=ax.transAxes, fontsize=13.7, va="baseline")
    ax.text(0.024, 0.048, PLANET, transform=ax.transAxes, fontsize=15, va="baseline")

axes[-1].set_xlabel("mole fraction", fontsize=13.5)

fig.savefig("out.png", dpi=100)
